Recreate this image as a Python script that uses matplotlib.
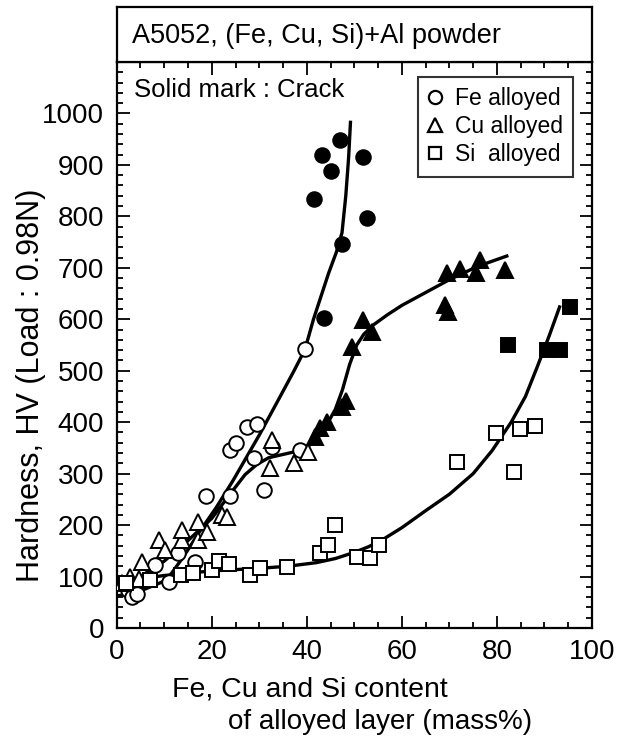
import matplotlib
matplotlib.use("Agg")
import matplotlib.pyplot as plt
from matplotlib.ticker import MultipleLocator
from matplotlib.lines import Line2D

plt.rcParams['font.family'] = ['Liberation Sans', 'DejaVu Sans']

# ---- data ----
fe_open_x = [1.5, 2.4, 3.2, 4.2, 8.1, 10.9, 13.0, 16.5, 18.8, 23.9, 23.9, 25.2, 27.4, 28.8, 29.5, 30.9, 32.6, 38.6, 39.7]
fe_open_y = [85, 74, 61, 67, 122, 90, 145, 128, 257, 257, 346, 359, 391, 331, 396, 268, 352, 346, 542]
fe_crack_x = [43.7, 47.4, 41.6, 45.1, 43.2, 46.9, 51.9, 52.6]
fe_crack_y = [602, 746, 834, 889, 920, 949, 915, 797]

cu_open_x = [1.1, 2.8, 4.6, 5.3, 8.8, 10.2, 13.7, 13.7, 17.2, 17.2, 18.9, 22.1, 23.2, 32.3, 32.6, 37.2, 40.3]
cu_open_y = [87, 100, 96, 129, 171, 151, 171, 190, 171, 206, 187, 219, 216, 310, 365, 320, 342]
cu_crack_x = [41.7, 42.8, 44.2, 47.5, 48.2, 49.5, 51.9, 53.8, 69.1, 69.8, 69.5, 72.3, 75.6, 76.5, 81.7]
cu_crack_y = [371, 388, 401, 430, 442, 546, 598, 575, 627, 614, 689, 698, 689, 715, 695]

si_open_x = [2.0, 7.0, 13.5, 16.1, 20.0, 21.6, 23.7, 28.1, 30.2, 35.8, 42.8, 44.5, 46.0, 50.5, 53.3, 55.1, 71.6, 79.9, 83.5, 84.9, 88.1]
si_open_y = [88, 93, 103, 107, 113, 130, 124, 103, 116, 119, 145, 161, 200, 138, 137, 161, 323, 379, 304, 386, 392]
si_crack_x = [82.4, 90.5, 93.3, 95.4]
si_crack_y = [550, 540, 540, 624]

# fitted curves (vertices)
fe_fit_x = [0, 5, 10.5, 14, 17.5, 21, 24.5, 30, 34.4, 37.2, 39.6, 41.4, 43, 44.6, 46.2, 47.4, 48.2, 48.8, 49.2]
fe_fit_y = [62, 72, 93, 138, 188, 235, 287, 375, 450, 498, 541, 600, 645, 690, 730, 768, 840, 915, 986]
cu_fit_x = [0, 5, 10, 15, 20, 24, 27, 29.5, 32, 35.8, 38.6, 41.4, 43, 44.5, 46, 47.5, 49, 50.5, 52, 54, 57, 60, 65, 70, 76, 82.4]
cu_fit_y = [80, 100, 130, 170, 213, 262, 298, 318, 331, 339, 345, 360, 378, 400, 425, 463, 512, 550, 571, 589, 609, 627, 652, 677, 703, 724]
si_fit_x = [0, 10, 20, 30, 36, 42, 46, 50, 53, 56, 60, 65, 70, 75, 79, 83, 86, 88.5, 91, 93.3]
si_fit_y = [90, 102, 111, 116, 120, 127, 135, 147, 158, 172, 195, 228, 260, 300, 345, 400, 450, 508, 568, 627]

W, H = 619, 745
fig = plt.figure(figsize=(W / 100, H / 100), dpi=100)
ax = fig.add_axes([116.7 / W, 1 - 628 / H, (592 - 116.7) / W, (628 - 62) / H])

lw_fit = 2.4
for fx, fy in ((fe_fit_x, fe_fit_y), (cu_fit_x, cu_fit_y), (si_fit_x, si_fit_y)):
    ax.plot(fx, fy, color='black', lw=lw_fit, zorder=2, solid_capstyle='butt',
            solid_joinstyle='round')

ms = 10.5
mew = 1.4
ax.plot(fe_open_x, fe_open_y, 'o', ms=ms, mfc='white', mec='black', mew=mew, zorder=3)
ax.plot(fe_crack_x, fe_crack_y, 'o', ms=ms, mfc='black', mec='black', mew=mew, zorder=3)
ax.plot(cu_open_x, cu_open_y, '^', ms=ms + 0.5, mfc='white', mec='black', mew=mew, zorder=3)
ax.plot(cu_crack_x, cu_crack_y, '^', ms=ms + 0.5, mfc='black', mec='black', mew=mew, zorder=3)
ax.plot(si_open_x, si_open_y, 's', ms=ms * 0.95, mfc='white', mec='black', mew=mew, zorder=3)
ax.plot(si_crack_x, si_crack_y, 's', ms=ms * 0.95, mfc='black', mec='black', mew=mew, zorder=3)

ax.set_xlim(0, 100)
ax.set_ylim(0, 1100)
ax.xaxis.set_major_locator(MultipleLocator(20))
ax.xaxis.set_minor_locator(MultipleLocator(5))
ax.yaxis.set_minor_locator(MultipleLocator(20))
ax.set_yticks([0, 100, 200, 300, 400, 500, 600, 700, 800, 900, 1000])
ax.tick_params(which='both', direction='in', top=True, right=True, width=1.3)
ax.tick_params(which='major', length=9, labelsize=20)
ax.tick_params(axis='x', which='major', pad=8)
ax.tick_params(axis='y', which='major', pad=9)
ax.tick_params(which='minor', length=4.5)
for s in ax.spines.values():
    s.set_linewidth(1.6)

fig.text(31 / W, 1 - 385 / H, 'Hardness, HV (Load : 0.98N)', fontsize=22, rotation=90,
         ha='center', va='center')

ax.text(0.037, (628 - 90) / 566, 'Solid mark : Crack', transform=ax.transAxes, fontsize=18.5,
        ha='left', va='center')

handles = [
    Line2D([], [], marker='o', ls='none', ms=9.5, mfc='white', mec='black', mew=1.6),
    Line2D([], [], marker='^', ls='none', ms=9.5, mfc='white', mec='black', mew=1.6),
    Line2D([], [], marker='s', ls='none', ms=9, mfc='white', mec='black', mew=1.6),
]
leg = ax.legend(handles, ['Fe alloyed', 'Cu alloyed', 'Si  alloyed'], loc='upper right',
                bbox_to_anchor=(0.96, 0.9735), fontsize=16.5, frameon=True, fancybox=False,
                handlelength=0.55, handletextpad=0.6, borderpad=0.45, labelspacing=0.22,
                borderaxespad=0)
leg.get_frame().set_edgecolor('black')
leg.get_frame().set_linewidth(1.5)

# title box above the axes
tax = fig.add_axes([116.7 / W, 1 - 62 / H, (592 - 116.7) / W, (62 - 7) / H])
tax.set_xticks([])
tax.set_yticks([])
for s in tax.spines.values():
    s.set_linewidth(1.6)
tax.text(0.032, 0.47, 'A5052, (Fe, Cu, Si)+Al powder', transform=tax.transAxes,
         fontsize=19.5, ha='left', va='center')

# x label (two lines, indented)
fig.text(172 / W, 1 - 690 / H, 'Fe, Cu and Si content', fontsize=20.5, ha='left', va='center')
fig.text(228 / W, 1 - 722 / H, 'of alloyed layer (mass%)', fontsize=20, ha='left', va='center')

fig.savefig('out.png', dpi=100)
